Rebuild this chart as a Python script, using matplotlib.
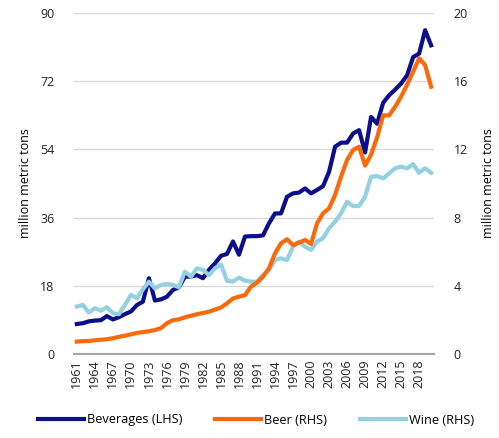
import numpy as np
import matplotlib
matplotlib.use("Agg")
import matplotlib.pyplot as plt

plt.rcParams['font.family'] = ['Open Sans', 'DejaVu Sans']

# Datos
years = list(range(1961, 2021))

beverages = [7.9, 8.1, 8.6, 8.8, 8.9, 10.0, 9.1, 9.7, 10.5, 11.2,
             12.9, 13.8, 20.0, 14.1, 14.4, 15.1, 16.9, 17.6, 20.4, 20.4,
             20.8, 20.0, 22.2, 23.9, 25.9, 26.4, 29.7, 26.2, 31.0, 31.1,
             31.1, 31.3, 34.5, 37.1, 37.1, 41.5, 42.4, 42.6, 43.7, 42.4,
             43.3, 44.3, 48.1, 54.7, 55.8, 55.8, 58.2, 59.1, 53.2, 62.6,
             60.8, 66.3, 68.3, 69.8, 71.4, 73.6, 78.4, 79.3, 85.5, 81.5]

beer = [0.72, 0.75, 0.76, 0.80, 0.83, 0.86, 0.92, 1.00, 1.07, 1.15,
        1.23, 1.28, 1.33, 1.40, 1.51, 1.80, 1.98, 2.03, 2.15, 2.24,
        2.33, 2.40, 2.48, 2.60, 2.72, 2.97, 3.25, 3.36, 3.45, 3.95,
        4.18, 4.53, 5.02, 5.90, 6.49, 6.73, 6.39, 6.53, 6.69, 6.45,
        7.66, 8.25, 8.54, 9.33, 10.4, 11.38, 11.96, 12.16, 11.05, 11.7,
        12.7, 14.0, 14.0, 14.5, 15.1, 15.8, 16.56, 17.35, 16.95, 15.68]

wine = [2.78, 2.87, 2.43, 2.68, 2.54, 2.74, 2.39, 2.33, 2.87, 3.46,
        3.27, 3.79, 4.24, 3.85, 4.05, 4.11, 4.05, 3.91, 4.83, 4.53,
        5.02, 4.93, 4.63, 5.02, 5.25, 4.30, 4.24, 4.48, 4.30, 4.24,
        4.24, 4.63, 4.93, 5.51, 5.61, 5.51, 6.29, 6.59, 6.29, 6.10,
        6.59, 6.79, 7.37, 7.76, 8.25, 8.93, 8.68, 8.68, 9.23, 10.4,
        10.44, 10.3, 10.6, 10.89, 10.99, 10.89, 11.14, 10.63, 10.89, 10.63]

tick_years = years[::3]

# Colores
c_bev = '#0b0f8c'
c_beer = '#fa6a0a'
c_wine = '#93d0e0'

fig = plt.figure(figsize=(4.99, 4.38), dpi=100)
ax = fig.add_axes([0.148, 0.192, 0.722, 0.778])
ax2 = ax.twinx()

l1, = ax.plot(years, beverages, color=c_bev, lw=3, zorder=3, label='Beverages (LHS)')
l3, = ax2.plot(years, wine, color=c_wine, lw=3, zorder=2, label='Wine (RHS)')
l2, = ax2.plot(years, beer, color=c_beer, lw=3, zorder=3, label='Beer (RHS)')

ax.set_xlim(1960.5, 2020.5)
ax.set_ylim(0, 90)
ax2.set_ylim(0, 20)
ax.set_yticks(np.arange(0, 91, 18))
ax2.set_yticks(np.arange(0, 21, 4))
ax.set_xticks(tick_years)
ax.set_xticklabels([str(y) for y in tick_years], rotation=90)

ax.grid(axis='y', color='#d9d9d9', lw=1)
ax.set_axisbelow(True)
for a in (ax, ax2):
    for s in a.spines.values():
        s.set_visible(False)
    a.tick_params(length=0, labelsize=9, colors='#222222')
ax.spines['bottom'].set_visible(True)
ax.spines['bottom'].set_color('#a6a6a6')
ax.spines['bottom'].set_linewidth(1.5)
ax.tick_params(axis='y', pad=14)
ax2.tick_params(axis='y', pad=14)
ax.tick_params(axis='x', pad=4)

ax.set_ylabel('million metric tons', fontsize=9, labelpad=6)
ax2.set_ylabel('million metric tons', fontsize=9, labelpad=10)

fig.legend(handles=[l1, l2, l3], loc='lower center', bbox_to_anchor=(0.513, 0.0),
           ncol=3, frameon=False, fontsize=9.2, handlelength=3.6,
           handletextpad=0.2, columnspacing=2.6)

plt.savefig('out.png', dpi=100)
